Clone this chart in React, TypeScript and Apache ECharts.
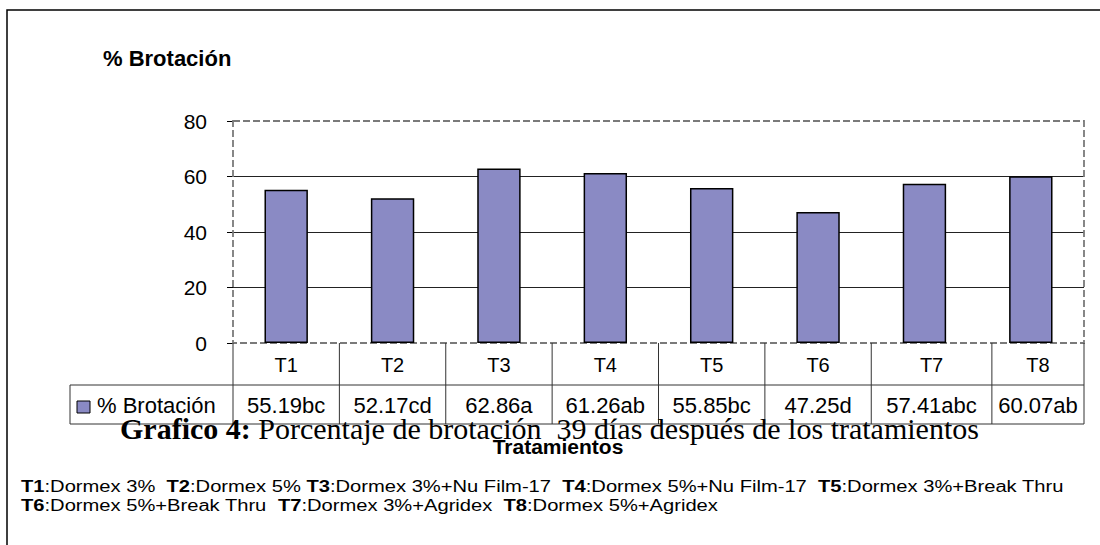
import React, { useEffect, useRef } from "react";
import * as echarts from "echarts";

const categories = ["T1", "T2", "T3", "T4", "T5", "T6", "T7", "T8"];
const brotacion = [55.19, 52.17, 62.86, 61.26, 55.85, 47.25, 57.41, 60.07];
const significance = ["bc", "cd", "a", "ab", "bc", "d", "abc", "ab"];
const yMin = 0;
const yMax = 80;
const yInterval = 20;
const seriesName = "% Brotación";
const axisTitle = "Tratamientos";
const captionBold = "Grafico 4:";
const captionText = " Porcentaje de brotación  39 días después de los tratamientos";
const footLine1: [string, string][] = [
  ["T1", ":Dormex 3%  "],
  ["T2", ":Dormex 5% "],
  ["T3", ":Dormex 3%+Nu Film-17  "],
  ["T4", ":Dormex 5%+Nu Film-17  "],
  ["T5", ":Dormex 3%+Break Thru"],
];
const footLine2: [string, string][] = [
  ["T6", ":Dormex 5%+Break Thru  "],
  ["T7", ":Dormex 3%+Agridex  "],
  ["T8", ":Dormex 5%+Agridex"],
];
// table column edges in category units (the source's T7/T8 divider is slightly shifted)
const tableEdges = [0, 1, 2, 3, 4, 5, 6, 7.134, 8];

const SANS = "'Liberation Sans', Arial, sans-serif";
const SERIF = "'Liberation Serif', 'Times New Roman', serif";
const BAR = "#8a8ac4";
const LINE = "#333";

export default function App() {
  const ref = useRef<HTMLDivElement>(null);
  useEffect(() => {
    if (!ref.current) return;
    const chart = echarts.init(ref.current, null, { renderer: "svg" });
    chart.setOption({
      animation: false,
      backgroundColor: "#fff",
      title: {
        text: seriesName,
        left: 98,
        top: 42,
        textStyle: { fontFamily: SANS, fontSize: 22, fontWeight: "bold", color: "#000" },
      },
      grid: { left: 233, right: 16, top: 121, bottom: 202, containLabel: false },
      xAxis: {
        type: "category",
        data: categories,
        axisLine: { show: false },
        axisTick: { show: false },
        axisLabel: { show: false },
        splitLine: { show: false },
      },
      yAxis: {
        type: "value",
        min: yMin,
        max: yMax,
        interval: yInterval,
        axisLine: { show: false },
        axisTick: { show: true, length: 6, inside: false, lineStyle: { color: "#000", width: 1 } },
        axisLabel: { margin: 26, fontFamily: SANS, fontSize: 21, color: "#000" },
        splitLine: {
          show: true,
          lineStyle: { color: ["transparent", "#222", "#222", "#222", "transparent"], width: 1 },
        },
      },
      series: [
        {
          name: seriesName,
          type: "bar",
          data: brotacion,
          barWidth: "40.8%",
          z: 3,
          itemStyle: { color: BAR, borderColor: "#000", borderWidth: 1.5 },
        },
      ],
    });

    const px = (i: number) => chart.convertToPixel({ xAxisIndex: 0 }, i) as number;
    const py = (v: number) => chart.convertToPixel({ yAxisIndex: 0 }, v) as number;
    const step = px(1) - px(0);
    const edge = (u: number) => px(0) - step / 2 + u * step;
    const left = edge(0);
    const right = edge(categories.length);
    const top = py(yMax);
    const bottom = py(yMin);
    const row1 = bottom + 42;
    const row2 = row1 + 39;
    const legendLeft = 70;

    const g: any[] = [];
    // outer frame
    g.push({
      type: "rect",
      shape: { x: 7, y: 10, width: 1200, height: 700 },
      style: { fill: "none", stroke: "#000", lineWidth: 1.5 },
      z: 0,
    });
    // dashed plot border
    g.push({
      type: "rect",
      shape: { x: left, y: top, width: right - left, height: bottom - top },
      style: { fill: "none", stroke: "#7a7a7a", lineWidth: 1.8, lineDash: [7, 3] },
      z: 1,
    });
    // table lines
    const hl = (x1: number, x2: number, y: number) =>
      g.push({ type: "line", shape: { x1, y1: y, x2, y2: y }, style: { stroke: LINE, lineWidth: 1 }, z: 1 });
    const vl = (x: number, y1: number, y2: number) =>
      g.push({ type: "line", shape: { x1: x, y1, x2: x, y2 }, style: { stroke: LINE, lineWidth: 1 }, z: 1 });
    hl(legendLeft, right, row1);
    hl(legendLeft, right, row2);
    vl(legendLeft, row1, row2);
    tableEdges.forEach((u) => vl(edge(u), bottom, row2));
    categories.forEach((c, i) => {
      const cx = (edge(tableEdges[i]) + edge(tableEdges[i + 1])) / 2;
      g.push({
        type: "text",
        x: cx,
        y: (bottom + row1) / 2 + 1,
        style: { text: c, fontFamily: SANS, fontSize: 20, fill: "#000", align: "center", verticalAlign: "middle" },
        z: 2,
      });
      g.push({
        type: "text",
        x: cx,
        y: (row1 + row2) / 2 + 1,
        style: {
          text: brotacion[i].toFixed(2) + significance[i],
          fontFamily: SANS,
          fontSize: 22,
          fill: "#000",
          align: "center",
          verticalAlign: "middle",
        },
        z: 2,
      });
    });
    // legend key in table
    g.push({
      type: "rect",
      shape: { x: 77, y: row1 + 16, width: 13, height: 12 },
      style: { fill: BAR, stroke: "#000", lineWidth: 1 },
      z: 2,
    });
    g.push({
      type: "text",
      x: 97,
      y: (row1 + row2) / 2 + 1,
      style: { text: seriesName, fontFamily: SANS, fontSize: 22, fill: "#000", align: "left", verticalAlign: "middle" },
      z: 2,
    });
    // caption
    g.push({
      type: "text",
      x: 120,
      y: 428,
      style: {
        text: `{b|${captionBold}}{r|${captionText}}`,
        verticalAlign: "middle",
        align: "left",
        rich: {
          b: { fontFamily: SERIF, fontSize: 30, fontWeight: "bold", fill: "#000" },
          r: { fontFamily: SERIF, fontSize: 30, fill: "#000" },
        },
      },
      z: 4,
    });
    // axis title
    g.push({
      type: "text",
      x: 558,
      y: 446,
      style: {
        text: axisTitle,
        fontFamily: SANS,
        fontSize: 21,
        fontWeight: "bold",
        fill: "#000",
        align: "center",
        verticalAlign: "middle",
      },
      z: 5,
    });
    // footnotes (condensed)
    const canvas = document.createElement("canvas");
    const ctx = canvas.getContext("2d")!;
    const FS = 16;
    const measure = (parts: [string, string][]) =>
      parts.reduce((acc, [b, r]) => {
        ctx.font = `bold ${FS}px ${SANS}`;
        const wb = ctx.measureText(b).width;
        ctx.font = `${FS}px ${SANS}`;
        return acc + wb + ctx.measureText(r).width;
      }, 0);
    const w1 = measure(footLine1);
    const sx = w1 > 0 ? 1043 / w1 : 1;
    const rich = {
      b: { fontFamily: SANS, fontSize: FS, fontWeight: "bold", fill: "#000" },
      r: { fontFamily: SANS, fontSize: FS, fill: "#000" },
    };
    const toRich = (parts: [string, string][]) => parts.map(([b, r]) => `{b|${b}}{r|${r}}`).join("");
    [footLine1, footLine2].forEach((line, k) => {
      g.push({
        type: "group",
        x: 21,
        y: 487 + k * 19,
        scaleX: sx,
        children: [
          {
            type: "text",
            x: 0,
            y: 0,
            style: { text: toRich(line), rich, align: "left", verticalAlign: "middle" },
          },
        ],
        z: 2,
      });
    });

    chart.setOption({ graphic: g });
    return () => chart.dispose();
  }, []);

  return (
    <div
      ref={ref}
      style={{ position: "fixed", left: 0, top: 0, width: 1100, height: 545, background: "#fff" }}
    />
  );
}
